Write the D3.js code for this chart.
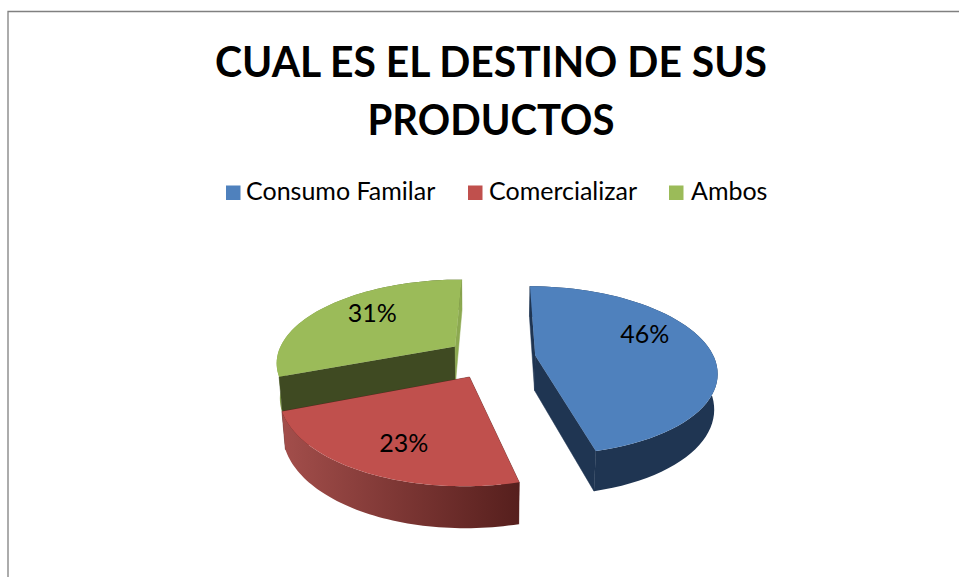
<!DOCTYPE html>
<html><head><meta charset="utf-8">
<script src="https://cdn.jsdelivr.net/npm/d3@7/dist/d3.min.js"></script>
<style>html,body{margin:0;padding:0;background:#fff;overflow:hidden}svg{display:block}</style>
</head><body><svg id="c" width="959" height="577"></svg>
<script>
const titleLines = ["CUAL ES EL DESTINO DE SUS", "PRODUCTOS"];
const categories = ["Consumo Familar", "Comercializar", "Ambos"];
const values = [46, 23, 31];
const labels = ["46%", "23%", "31%"];
const colors = ["#4F81BD", "#C0504D", "#9BBB59"];
const wallLight = ["#1F3552", "#A34E4B", "#8CA950"];
const wallDark = ["#1F3552", "#561F1D", "#3F4A22"];
const endFace = ["#1F3552", "#561F1D", "#8CA950"];
const facesOverWall = [false, false, true];

const W = 959, H = 577, FONT = "Lato, Carlito, Calibri, sans-serif";
const svg = d3.select("#c");
const defs = svg.append("defs");

// frame
svg.append("path").attr("d", "M959,11.5H8V577").attr("fill", "none").attr("stroke", "#808080").attr("stroke-width", 1.3);

// title
const titleLen = [552, 247];
svg.append("g").selectAll("text").data(titleLines).join("text")
  .attr("x", 491).attr("y", (d, i) => 77 + i * 58)
  .attr("text-anchor", "middle").attr("font-family", FONT).attr("font-weight", 700)
  .attr("font-size", 42).attr("fill", "#000")
  .attr("textLength", (d, i) => titleLen[i]).attr("lengthAdjust", "spacingAndGlyphs").text(d => d);

// legend
const legX = [226, 468, 669], legTx = [246, 489, 691];
const leg = svg.append("g").selectAll("g").data(categories).join("g");
leg.append("rect").attr("x", (d, i) => legX[i]).attr("y", 185.5).attr("width", 14.5).attr("height", 14.5).attr("fill", (d, i) => colors[i]);
leg.append("text").attr("x", (d, i) => legTx[i]).attr("y", 200).attr("font-family", FONT)
  .attr("font-size", 25).attr("fill", "#000").text(d => d);

// 3D pie geometry
const rot = 0.5 * Math.PI / 180, explode = 0.25;
const vx = 491, vy = 358, rx = 179, ry = 82.4, kY = 0.176, hPx = 35.5, kH = 0.015;
const pie = d3.pie().sort(null).startAngle(rot).endAngle(rot + 2 * Math.PI)(values);
function project(X, Y, h) {
  const s = 1 / (1 - kY * Y + kH * h);
  return [vx + X * rx * s, vy + (Y * ry + h * hPx) * s];
}
const line = d3.line();
pie.forEach((p, i) => p.idx = i);
const order = [2, 0, 1];
const g = svg.append("g");
function sl(p, th, r, h) {
  const mid = (p.startAngle + p.endAngle) / 2;
  return project(r * Math.sin(th) + explode * Math.sin(mid), -r * Math.cos(th) - explode * Math.cos(mid), h);
}
order.forEach(i => {
  const p = pie[i];
  const ths = d3.range(0, 61).map(t => p.startAngle + (p.endAngle - p.startAngle) * t / 60);
  const gid = "wall" + i;
  const xs = ths.map(t => sl(p, t, 1, 0)[0]);
  const grad = defs.append("linearGradient").attr("id", gid).attr("gradientUnits", "userSpaceOnUse")
    .attr("x1", d3.min(xs)).attr("x2", d3.max(xs)).attr("y1", 0).attr("y2", 0);
  grad.append("stop").attr("offset", 0).attr("stop-color", wallLight[i]);
  grad.append("stop").attr("offset", 1).attr("stop-color", wallDark[i]);
  const c0 = th => sl(p, th, 0, 0), c1 = th => sl(p, th, 0, 1);
  const drawWall = () => {
    const band = ths.map(t => sl(p, t, 1, 0)).concat(ths.slice().reverse().map(t => sl(p, t, 1, 1)));
    g.append("path").attr("d", line(band) + "Z").attr("fill", `url(#${gid})`);
  };
  const drawFaces = () => {
    [[p.startAngle, wallDark[i]], [p.endAngle, endFace[i]]].forEach(([a, col]) => {
      g.append("path").attr("d", line([c0(a), sl(p, a, 1, 0), sl(p, a, 1, 1), c1(a)]) + "Z")
        .attr("fill", col).attr("stroke", col).attr("stroke-width", .5);
    });
  };
  if (facesOverWall[i]) { drawWall(); drawFaces(); } else { drawFaces(); drawWall(); }
  // top
  const top = [c0(p.startAngle)].concat(ths.map(t => sl(p, t, 1, 0)));
  g.append("path").attr("d", line(top) + "Z").attr("fill", colors[i]);
});

// value labels
const labR = [0.63, 0.62, 0.62];
const labDx = [0, -4, -1], labDy = [-15, 12, -7];
svg.append("g").selectAll("text").data(pie).join("text")
  .attr("transform", d => {
    const mid = (d.startAngle + d.endAngle) / 2;
    const q = sl(d, mid, labR[d.idx], 0);
    return `translate(${q[0] + labDx[d.idx]},${q[1] + labDy[d.idx]})`;
  })
  .attr("text-anchor", "middle").attr("dy", "0.35em").attr("font-family", FONT)
  .attr("font-size", 25).attr("fill", "#000").text(d => labels[d.idx]);
</script></body></html>
